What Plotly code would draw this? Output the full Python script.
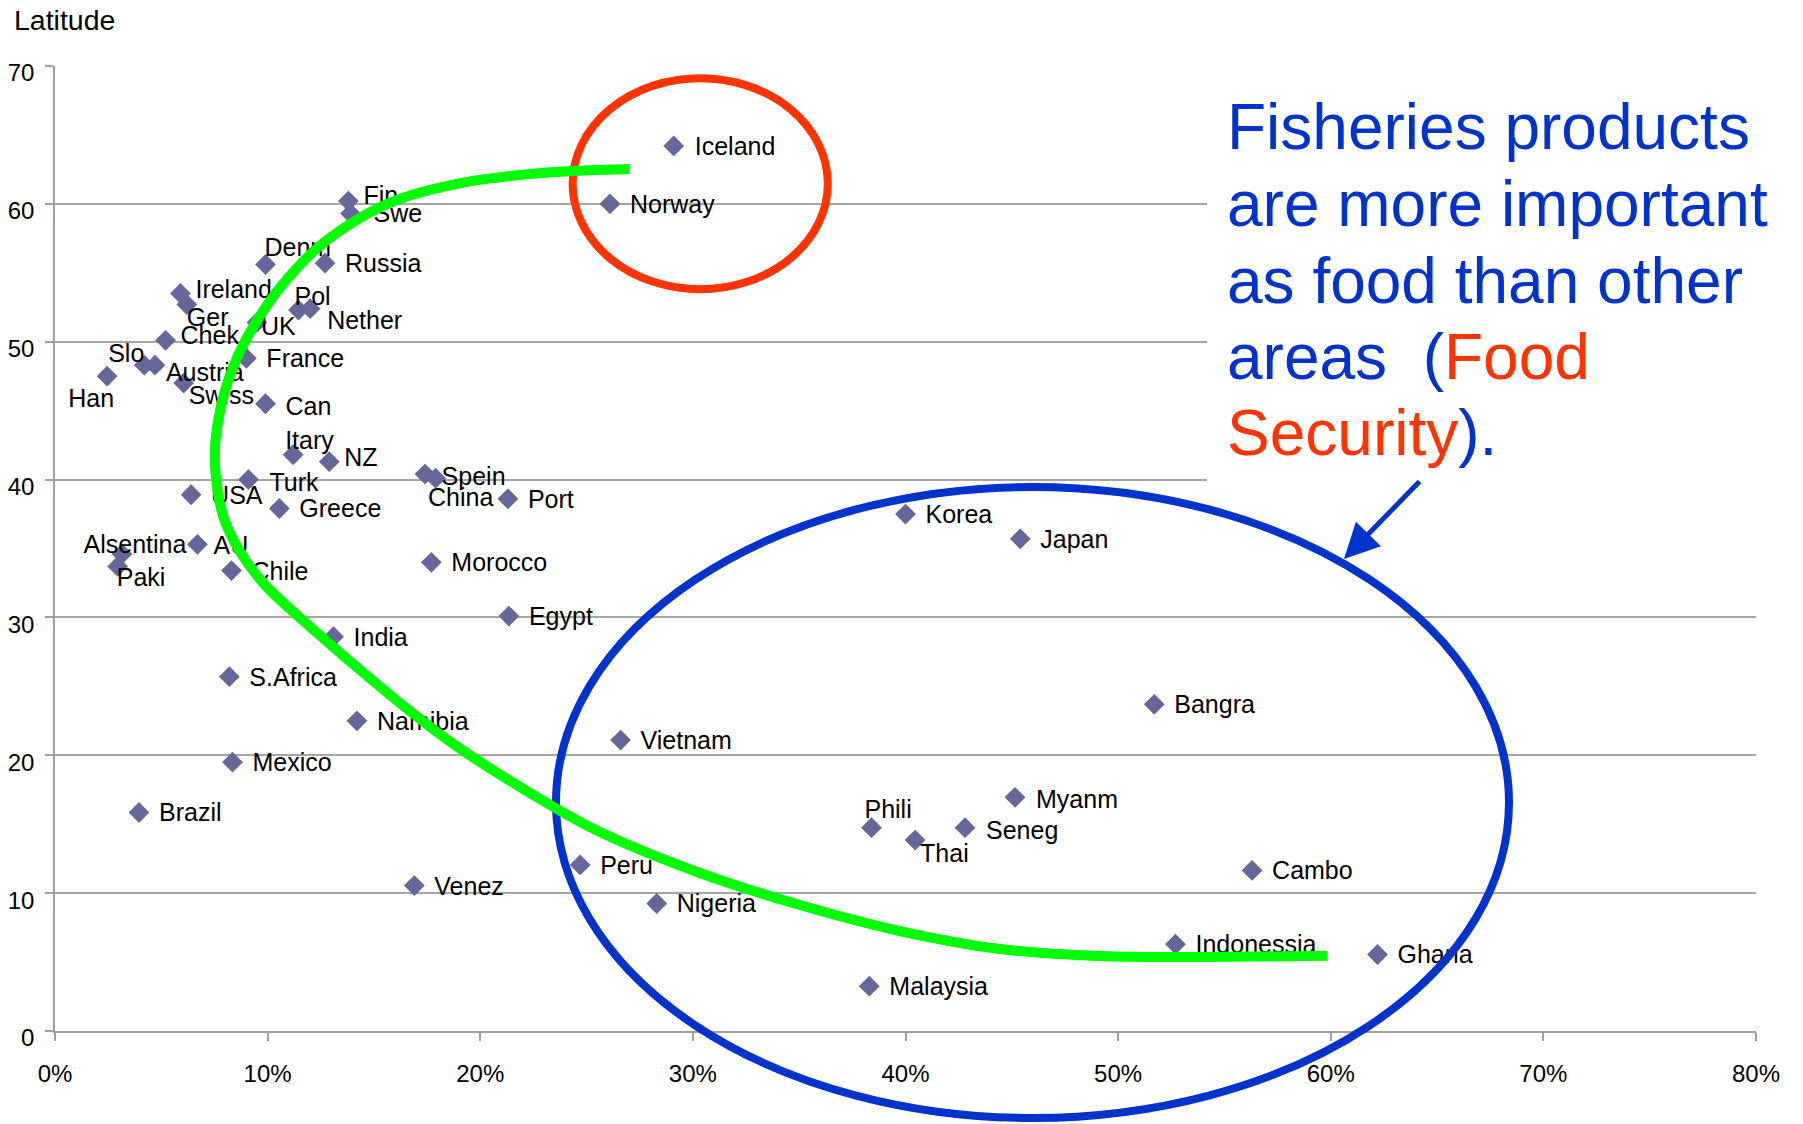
import plotly.graph_objects as go

# ---------------- data ----------------
countries = ["Iceland", "Norway", "Fin", "Swe", "Denm", "Russia", "Ireland", "Ger", "Pol", "Nether",
             "UK", "Chek", "France", "Slo", "Austria", "Han", "Swiss", "Can", "Itary", "NZ",
             "Turk", "USA", "Greece", "China", "Spein", "Port", "Alsentina", "Paki", "AU", "Chile",
             "Morocco", "Egypt", "India", "S.Africa", "Namibia", "Mexico", "Brazil", "Venez", "Peru", "Nigeria",
             "Vietnam", "Korea", "Japan", "Bangra", "Myanm", "Phili", "Thai", "Seneg", "Cambo", "Indonessia",
             "Ghana", "Malaysia"]
fish_share_pct = [29.1, 26.1, 13.8, 13.9, 9.9, 12.7, 5.9, 6.2, 11.45, 12.0,
                  9.5, 5.2, 9.0, 4.2, 4.7, 2.45, 6.05, 9.9, 11.2, 12.9,
                  9.1, 6.4, 10.55, 17.4, 17.9, 21.3, 3.15, 2.95, 6.7, 8.3,
                  17.7, 21.35, 13.1, 8.2, 14.2, 8.35, 3.95, 16.9, 24.7, 28.3,
                  26.6, 40.0, 45.4, 51.7, 45.15, 38.4, 40.45, 42.8, 56.3, 52.7,
                  62.2, 38.3]
latitude = [64.2, 60.0, 60.2, 59.3, 55.6, 55.7, 53.5, 52.7, 52.3, 52.4,
            51.4, 50.1, 48.8, 48.3, 48.3, 47.5, 47.0, 45.5, 41.8, 41.3,
            40.0, 38.9, 37.9, 40.4, 40.1, 38.6, 34.6, 33.7, 35.3, 33.4,
            34.0, 30.1, 28.6, 25.7, 22.5, 19.5, 15.85, 10.55, 12.05, 9.25,
            21.1, 37.5, 35.7, 23.7, 16.95, 14.75, 13.85, 14.75, 11.65, 6.3,
            5.55, 3.25]

x_ticks = [0, 10, 20, 30, 40, 50, 60, 70, 80]
y_ticks = [0, 10, 20, 30, 40, 50, 60, 70]

# hand-drawn green trend curve (data units), traced from the top-right end
trend_curve_x = [27.02, 23.28, 19.09, 15.71, 12.79, 10.72, 9.15, 8.15, 7.60, 7.54,
                 7.89, 8.68, 9.92, 11.85, 13.91, 16.22, 18.81, 21.87, 25.63, 30.33,
                 35.04, 39.74, 44.44, 49.15, 53.85, 59.82]
trend_curve_y = [62.53, 62.29, 61.51, 60.06, 57.38, 54.19, 50.63, 47.22, 43.59, 40.69,
                 37.43, 34.82, 32.28, 29.52, 26.76, 23.79, 20.74, 17.70, 14.43, 11.46,
                 9.14, 7.25, 5.95, 5.44, 5.37, 5.46]

# ---------------- geometry / style ----------------
W, H = 1803, 1124
ML, MR, MT, MB = 55, 47, 66, 93
PW, PH = W - ML - MR, H - MT - MB
XPX = PW / 80.0
YPX = PH / 70.0
FONT = "Liberation Sans, Arial, sans-serif"
LABEL_SIZE = 25


def px(xf):
    return (xf - ML) / PW


def py(yf):
    return (H - MB - yf) / PH


def smooth_path(xs, ys):
    pts = list(zip(xs, ys))
    n = len(pts)
    d = "M %.4f,%.4f" % pts[0]
    for i in range(n - 1):
        p0 = pts[i - 1] if i > 0 else pts[i]
        p1, p2 = pts[i], pts[i + 1]
        p3 = pts[i + 2] if i + 2 < n else pts[i + 1]
        c1 = (p1[0] + (p2[0] - p0[0]) / 6.0, p1[1] + (p2[1] - p0[1]) / 6.0)
        c2 = (p2[0] - (p3[0] - p1[0]) / 6.0, p2[1] - (p3[1] - p1[1]) / 6.0)
        d += " C %.4f,%.4f %.4f,%.4f %.4f,%.4f" % (c1 + c2 + p2)
    return d


# label placement: (anchor side, dx px, dy px downward) relative to the marker
label_style = {
    "Iceland": ("left", 21, 0), "Fin": ("left", 15, -6), "Swe": ("left", 23, 0),
    "Denm": ("left", -1, -17), "Ireland": ("left", 15, -4), "Ger": ("left", 0, 13),
    "Pol": ("left", -4, -14), "Nether": ("left", 17, 11), "UK": ("left", 4, 4),
    "Chek": ("left", 15, -5), "Slo": ("right", 0, -12), "Austria": ("left", 11, 7),
    "Han": ("right", 7, 22), "Swiss": ("left", 5, 12), "Can": ("left", 20, 2),
    "Itary": ("left", -8, -15), "NZ": ("left", 15, -5), "Turk": ("left", 21, 2),
    "China": ("left", 3, 23), "Spein": ("left", 6, -2), "Alsentina": ("center", 13, -10),
    "Paki": ("left", -1, 11), "AU": ("left", 16, 1), "Phili": ("left", -7, -19),
    "Thai": ("left", 5, 13), "Myanm": ("left", 21, 2), "Seneg": ("left", 21, 2),
}
pos_map = {"left": "middle right", "right": "middle left", "center": "middle center"}

lab_x, lab_y, lab_pos = [], [], []
for c, xv, yv in zip(countries, fish_share_pct, latitude):
    side, dx, dy = label_style.get(c, ("left", 20, 0))
    lab_x.append(xv + dx / XPX)
    lab_y.append(yv - (dy + 2.7) / YPX)
    lab_pos.append(pos_map[side])

fig = go.Figure()
fig.add_trace(go.Scatter(
    x=fish_share_pct, y=latitude, mode="markers",
    marker=dict(symbol="diamond", size=16, color="#666699", line=dict(width=0)),
    hoverinfo="skip", showlegend=False))
fig.add_trace(go.Scatter(
    x=lab_x, y=lab_y, mode="text", text=countries, textposition=lab_pos,
    textfont=dict(family=FONT, size=LABEL_SIZE, color="#000000"),
    hoverinfo="skip", showlegend=False, cliponaxis=False))

shapes = [
    dict(type="rect", xref="paper", yref="paper", x0=px(1207), x1=px(1803), y0=py(487), y1=py(80),
         fillcolor="white", line=dict(width=0), layer="above"),
    dict(type="circle", xref="paper", yref="paper", x0=px(572.6), x1=px(827.8), y0=py(289.2), y1=py(78.2),
         line=dict(color="#FF3300", width=8), layer="above"),
    dict(type="circle", xref="paper", yref="paper", x0=px(556), x1=px(1509), y0=py(1118), y1=py(487),
         line=dict(color="#0033CC", width=8), layer="above"),
    dict(type="path", xref="x", yref="y", path=smooth_path(trend_curve_x, trend_curve_y),
         line=dict(color="#00FF00", width=10), fillcolor="rgba(0,0,0,0)", layer="above"),
]

BLUE = "#0033CC"
RED = "#FF3300"
big_lines = [
    "Fisheries products",
    "are more important",
    "as food than other",
    "areas\u00a0 (<span style='color:%s'>Food</span>" % RED,
    "<span style='color:%s'>Security</span>)." % RED,
]
line_mid = [127.5, 204.0, 280.5, 357.0, 433.0]

annotations = []
for t, ym in zip(big_lines, line_mid):
    annotations.append(dict(xref="paper", yref="paper", x=px(1227), y=py(ym), xanchor="left", yanchor="middle",
                            text=t, showarrow=False, font=dict(family=FONT, size=64, color=BLUE),
                            borderpad=0, borderwidth=0))
annotations.append(dict(xref="paper", yref="paper", x=px(12.5), y=py(20.0), xanchor="left", yanchor="middle",
                        text="Latitude", showarrow=False, font=dict(family=FONT, size=28.5, color="#000000"),
                        borderpad=0))
annotations.append(dict(xref="paper", yref="paper", x=px(1344), y=py(559), text="", showarrow=True,
                        ax=77, ay=-79, axref="pixel", ayref="pixel", arrowhead=2, arrowsize=1.4,
                        arrowwidth=5, arrowcolor=BLUE, standoff=0))

fig.update_layout(
    width=W, height=H,
    margin=dict(l=ML, r=MR, t=MT, b=MB, pad=0, autoexpand=False),
    paper_bgcolor="white", plot_bgcolor="white",
    showlegend=False, hovermode=False,
    font=dict(family=FONT, size=24, color="#000000"),
    shapes=shapes, annotations=annotations,
    xaxis=dict(range=[0, 80], tickvals=x_ticks, ticktext=["%d%%" % v for v in x_ticks],
               showgrid=False, zeroline=False, showline=True, linecolor="#A0A0A0", linewidth=1.5,
               ticks="outside", ticklen=8, tickcolor="#A0A0A0", tickwidth=1.5, automargin=False,
               tickfont=dict(family=FONT, size=24, color="#000000"), ticklabelstandoff=12),
    yaxis=dict(range=[0, 70], tickvals=y_ticks,
               showgrid=True, gridcolor="#A6A6A6", gridwidth=1.5, zeroline=False,
               showline=True, linecolor="#A0A0A0", linewidth=1.5, automargin=False,
               ticks="outside", ticklen=8, tickcolor="#A0A0A0", tickwidth=1.5,
               tickfont=dict(family=FONT, size=24, color="#000000"), ticklabelstandoff=6,
               ticklabelshift=7),
)

fig.write_html("out.html")
